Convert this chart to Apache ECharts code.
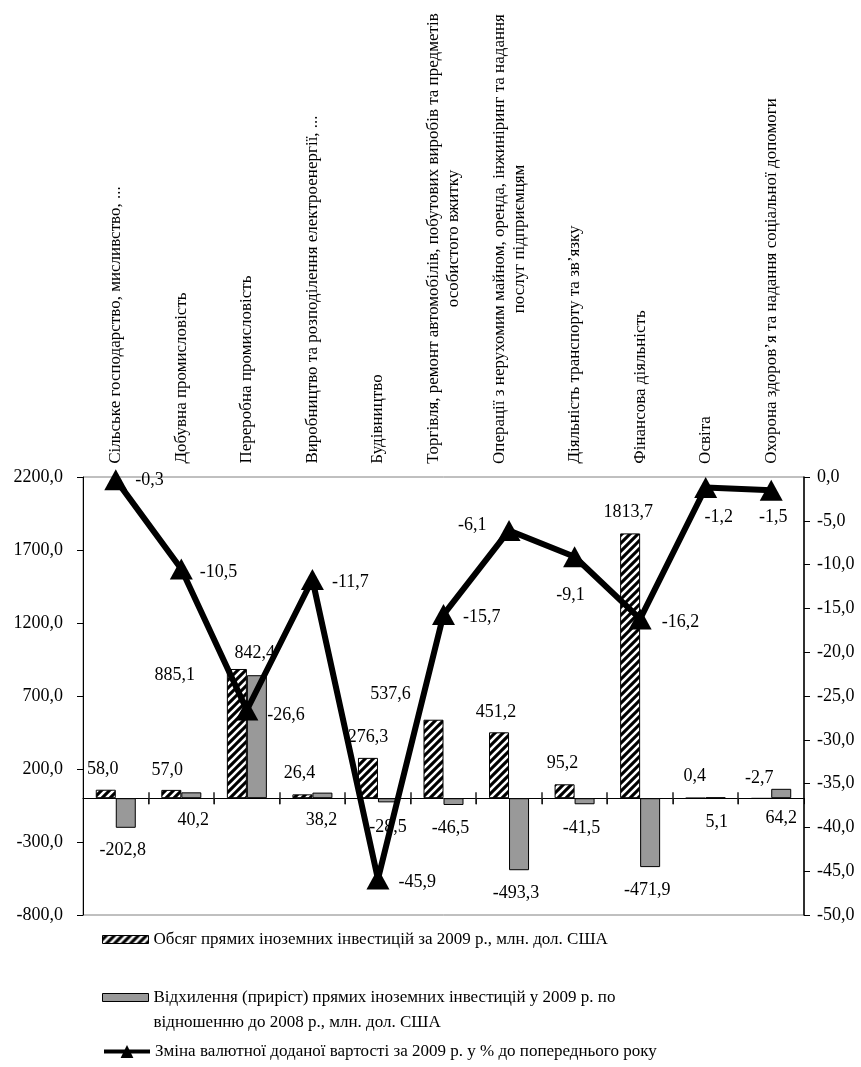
<!DOCTYPE html>
<html><head><meta charset="utf-8">
<script src="https://cdn.jsdelivr.net/npm/echarts@6/dist/echarts.min.js"></script>
<style>html,body{margin:0;padding:0;background:#fff}#chart{width:861px;height:1067px}</style>
</head><body><div id="chart"></div>
<script>
// ---------- data ----------
const categories = [
  'Сільське господарство, мисливство, ...',
  'Добувна промисловість',
  'Переробна промисловість',
  'Виробництво та розподілення електроенергії, ...',
  'Будівництво',
  'Торгівля, ремонт автомобілів, побутових виробів та предметів\nособистого вжитку',
  'Операції з нерухомим майном, оренда, інжиніринг та надання\nпослуг підприємцям',
  'Діяльність транспорту та зв’язку',
  'Фінансова діяльність',
  'Освіта',
  'Охорона здоров’я та надання соціальної допомоги'
];
const fdi2009   = [58.0, 57.0, 885.1, 26.4, 276.3, 537.6, 451.2, 95.2, 1813.7, 0.4, -2.7];
const fdiChange = [-202.8, 40.2, 842.4, 38.2, -28.5, -46.5, -493.3, -41.5, -471.9, 5.1, 64.2];
const gvaChange = [-0.3, -10.5, -26.6, -11.7, -45.9, -15.7, -6.1, -9.1, -16.2, -1.2, -1.5];
const seriesNames = [
  'Обсяг прямих іноземних інвестицій за 2009 р., млн. дол. США',
  'Відхилення (приріст) прямих іноземних інвестицій у 2009 р. по\nвідношенню до 2008 р., млн. дол. США',
  'Зміна валютної доданої вартості за 2009 р. у % до попереднього року'
];

// ---------- label placement (style) ----------
const hatchLabelOffset = [[-3,-6],[-4,-6],[-62,20],[-3,-7],[0,-7],[-43,-11],[-3,-6],[-2,-7],[-2,-7],[-1,-7],[-2,-6]];
const greyLabelOffset  = [[-3,8],[2,8],[-2,-159],[-1,8],[0,11],[-3,9],[-3,9],[-3,10],[-3,9],[1,10],[0,6]];
const lineLabelPos     = ['right','right','right','right','right','right','left','bottom','right','bottom','bottom'];
const lineLabelOffset  = [[3,1],[2,3],[4,5],[3,3],[4,3],[3,3],[-6,-5],[-4,14],[5,3],[13,5],[2,3]];

const FONT = '"Liberation Serif", "Times New Roman", serif';
const fmt = v => Number(v).toFixed(1).replace('.', ',');

// hatch pattern
const pc = document.createElement('canvas');
pc.width = 8; pc.height = 8;
const pctx = pc.getContext('2d');
pctx.fillStyle = '#000'; pctx.fillRect(0, 0, 8, 8);
pctx.strokeStyle = '#fff'; pctx.lineWidth = 2.6;
pctx.beginPath();
pctx.moveTo(-1, 9); pctx.lineTo(9, -1);
pctx.moveTo(-5, 5); pctx.lineTo(5, -5);
pctx.moveTo(3, 13); pctx.lineTo(13, 3);
pctx.stroke();
const hatch = { image: pc, repeat: 'repeat' };

// category label rich styles (centre the second line)
const CAT_FS = 17;
const mctx = document.createElement('canvas').getContext('2d');
mctx.font = CAT_FS + 'px "Liberation Serif"';
const catRich = {};
categories.forEach((c, i) => {
  const w = Math.max(...c.split('\n').map(l => mctx.measureText(l).width));
  catRich['c' + i] = { width: Math.ceil(w) + 2, align: 'center', fontSize: CAT_FS, fontFamily: FONT, lineHeight: 20, color: '#000' };
});

const valueLabel = { show: true, color: '#000', fontSize: 18, fontFamily: FONT };

// crossing tick marks on the zero line at each category boundary (positions from the axis scales)
const boundaryTick = (params, api) => {
  const p = api.coord([api.value(0), 0]);
  const bw = api.size([1, 0])[0];
  const x = Math.round(p[0] - bw / 2);
  return { type: 'rect', silent: true, z2: 10,
    shape: { x: x - 0.75, y: p[1] - 6, width: 1.5, height: 12 },
    style: { fill: '#222' } };
};

const chart = echarts.init(document.getElementById('chart'), null, { renderer: 'canvas' });
chart.setOption({
  animation: false,
  backgroundColor: '#fff',
  textStyle: { fontFamily: FONT, color: '#000' },
  grid: { left: 83, right: 57, top: 477, bottom: 152, show: true, borderColor: '#808080', borderWidth: 1, backgroundColor: 'transparent' },
  legend: [
    { data: [{ name: seriesNames[0], itemStyle: { borderColor: '#000', borderWidth: 1 } }],
      left: 102, top: 931, padding: 0, itemWidth: 46, itemHeight: 8, icon: 'rect', itemGap: 5,
      textStyle: { fontSize: 17, fontFamily: FONT, color: '#000' } },
    { data: [{ name: seriesNames[1], itemStyle: { borderColor: '#000', borderWidth: 1 } }],
      left: 102, top: 960, padding: 0, itemWidth: 46, itemHeight: 8, icon: 'rect',
      formatter: n => '\n' + n,
      textStyle: { fontSize: 17, fontFamily: FONT, color: '#000', lineHeight: 25 } },
    { data: [{ name: seriesNames[2] }],
      left: 102, top: 1043, padding: 0, itemWidth: 46, itemHeight: 16,
      lineStyle: { width: 4, color: '#000' },
      textStyle: { fontSize: 17, fontFamily: FONT, color: '#000' } }
  ],
  xAxis: [
    { type: 'category', data: categories, position: 'bottom',
      axisLine: { show: true, onZero: true, onZeroAxisIndex: 0, lineStyle: { color: '#000', width: 1 } },
      axisTick: { show: true, interval: 0, length: 6, lineStyle: { color: '#000', width: 1 } },
      axisLabel: { show: false }, splitLine: { show: false } },
    { type: 'category', data: categories, position: 'top',
      axisLine: { show: false, onZero: false }, axisTick: { show: false }, splitLine: { show: false },
      axisLabel: { show: true, interval: 0, rotate: -90, margin: 12, fontSize: CAT_FS, fontFamily: FONT, color: '#000', lineHeight: 20,
        formatter: (v, i) => v.split('\n').map(l => '{c' + i + '|' + l + '}').join('\n'), rich: catRich } }
  ],
  yAxis: [
    { type: 'value', position: 'left', min: -800, max: 2200, interval: 500,
      axisLine: { show: true, lineStyle: { color: '#000', width: 1 } },
      axisTick: { show: true, length: 6, lineStyle: { color: '#000' } },
      splitLine: { show: false },
      axisLabel: { formatter: fmt, margin: 20, fontSize: 18, fontFamily: FONT, color: '#000' } },
    { type: 'value', position: 'right', min: -50, max: 0, interval: 5,
      axisLine: { show: true, lineStyle: { color: '#000', width: 1.5 } },
      axisTick: { show: true, length: 6, lineStyle: { color: '#000' } },
      splitLine: { show: false },
      axisLabel: { formatter: fmt, margin: 13, fontSize: 18, fontFamily: FONT, color: '#000' } }
  ],
  series: [
    { name: seriesNames[0], type: 'bar', xAxisIndex: 0, yAxisIndex: 0, barWidth: 20, barGap: '0%',
      itemStyle: { color: hatch, borderColor: '#000', borderWidth: 1 },
      label: Object.assign({ position: 'top', formatter: p => fmt(p.value) }, valueLabel),
      data: fdi2009.map((v, i) => ({ value: v, label: { offset: hatchLabelOffset[i] } })) },
    { name: seriesNames[1], type: 'bar', xAxisIndex: 0, yAxisIndex: 0, barWidth: 20, barGap: '0%',
      itemStyle: { color: '#999999', borderColor: '#000', borderWidth: 1 },
      label: Object.assign({ position: 'bottom', formatter: p => fmt(p.value) }, valueLabel),
      data: fdiChange.map((v, i) => ({ value: v, label: { offset: greyLabelOffset[i] } })) },
    { name: seriesNames[2], type: 'line', xAxisIndex: 0, yAxisIndex: 1, z: 5,
      symbol: 'triangle', symbolSize: [23, 21],
      lineStyle: { width: 6, color: '#000' }, itemStyle: { color: '#000' },
      label: Object.assign({ formatter: p => fmt(p.value) }, valueLabel),
      data: gvaChange.map((v, i) => ({ value: v, label: { position: lineLabelPos[i], offset: lineLabelOffset[i] } })) },
    { name: 'boundary-ticks', type: 'custom', coordinateSystem: 'cartesian2d', xAxisIndex: 0, yAxisIndex: 0,
      z: 4, silent: true, clip: false,
      renderItem: boundaryTick, encode: { x: 0, y: 1 },
      data: categories.slice(1).map((c, i) => [i + 1, 0]) }
  ]
});
</script>
</body></html>
